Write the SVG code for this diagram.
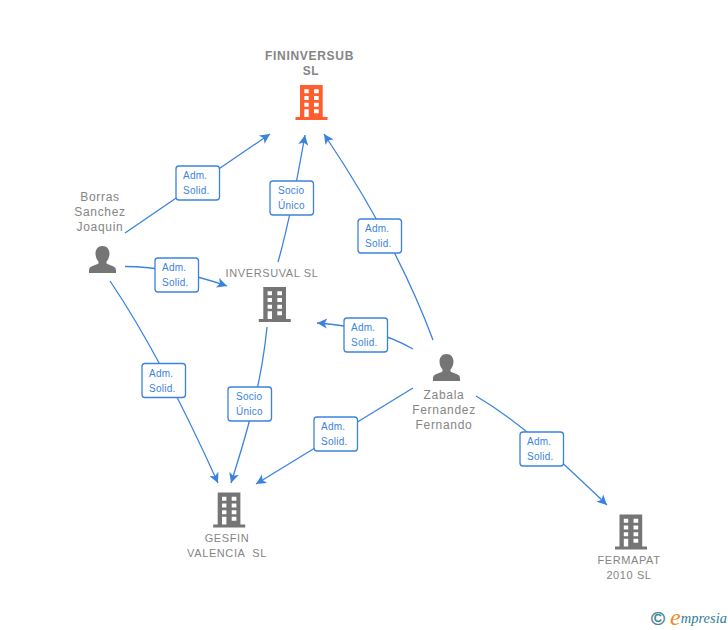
<svg xmlns="http://www.w3.org/2000/svg" width="728" height="630" viewBox="0 0 728 630">
<style>
.c{fill:none;stroke:#3b82e0;stroke-width:1.3;marker-end:url(#a)}
.b{fill:#fff;stroke:#3b82e0;stroke-width:1.3}
.t{font:10px "Liberation Sans",Arial,sans-serif;fill:#3b82e0;letter-spacing:.25px}
.n{font:12px "Liberation Sans",Arial,sans-serif;fill:#858585;text-anchor:middle;letter-spacing:.7px}
.u{font-size:11px;letter-spacing:.6px;white-space:pre}
.nb{font-weight:bold}
</style>
<defs>
<marker id="a" viewBox="0 0 12 12" refX="11" refY="6" markerWidth="12" markerHeight="12" markerUnits="userSpaceOnUse" orient="auto"><path d="M1 1 11 6 1 11 3.5 6z" fill="#3b82e0"/></marker>
<symbol id="bld" overflow="visible"><path fill-rule="evenodd" d="M0 0H22.7V32H27.500V35H-4.500V32H0ZM4.300 4.300V8.300H8.700V4.300ZM14 4.300V8.300H18.700V4.300ZM4.300 11V15H8.700V11ZM14 11V15H18.700V11ZM4.300 17.700V21.700H8.700V17.700ZM14 17.700V21.700H18.700V17.700ZM4.300 24.300V32H8.700V24.300ZM14 24.300V28.300H18.700V24.300Z"/></symbol>
<symbol id="per" overflow="visible"><path d="M13.500 0C18 0 20.500 3.500 20.500 7.500 20.500 11 19 14 17.500 15.500V17.500C21 19.500 27 20 27 24V27H0V24C0 20 6 19.500 9.500 17.500V15.500C8 14 6.500 11 6.500 7.500 6.500 3.500 9 0 13.500 0Z"/></symbol>
</defs>
<g id="connectors">
<path class="c" d="M125 233L270 134"/>
<path class="c" d="M125 266.500C160 266.500 195 275 227 286"/>
<path class="c" d="M110 281C150 340 185 410 218 483"/>
<path class="c" d="M278 262C290 220 298 175 305 135"/>
<path class="c" d="M267 327C262 380 248 430 231 483"/>
<path class="c" d="M433 340C405 265 365 195 324 134"/>
<path class="c" d="M413 349C385 333 350 325 317 323"/>
<path class="c" d="M413 388L256 484"/>
<path class="c" d="M476 396C525 425 565 465 607 505"/>
</g>
<g id="e1"><rect class="b" x="176" y="166" width="43.500" height="34" rx="3"/><text class="t" x="183" y="179">Adm.</text><text class="t" x="183" y="194">Solid.</text></g>
<g id="e2"><rect class="b" x="155" y="258" width="43.500" height="34" rx="3"/><text class="t" x="162" y="271">Adm.</text><text class="t" x="162" y="286">Solid.</text></g>
<g id="e3"><rect class="b" x="142" y="363.500" width="43.500" height="34" rx="3"/><text class="t" x="149" y="376.500">Adm.</text><text class="t" x="149" y="391.500">Solid.</text></g>
<g id="e4"><rect class="b" x="270" y="181" width="43.500" height="34" rx="3"/><text class="t" x="278" y="194">Socio</text><text class="t" x="278" y="209">Único</text></g>
<g id="e5"><rect class="b" x="228" y="387" width="43.500" height="34" rx="3"/><text class="t" x="236" y="400">Socio</text><text class="t" x="236" y="415">Único</text></g>
<g id="e6"><rect class="b" x="358" y="219" width="43.500" height="34" rx="3"/><text class="t" x="365" y="232">Adm.</text><text class="t" x="365" y="247">Solid.</text></g>
<g id="e7"><rect class="b" x="344" y="318" width="43.500" height="34" rx="3"/><text class="t" x="351" y="331">Adm.</text><text class="t" x="351" y="346">Solid.</text></g>
<g id="e8"><rect class="b" x="314" y="417" width="43.500" height="34" rx="3"/><text class="t" x="321" y="430">Adm.</text><text class="t" x="321" y="445">Solid.</text></g>
<g id="e9"><rect class="b" x="520" y="432" width="43.500" height="34" rx="3"/><text class="t" x="527" y="445">Adm.</text><text class="t" x="527" y="460">Solid.</text></g>
<g id="fininversub"><text class="n nb" x="309.500" y="60">FININVERSUB</text><text class="n nb" x="311" y="75">SL</text><use href="#bld" x="300" y="85" fill="#ff5e2e"/></g>
<g id="inversuval"><text class="n u" x="272" y="277">INVERSUVAL SL</text><use href="#bld" x="263.300" y="287" fill="#757575"/></g>
<g id="gesfin"><text class="n u" x="227" y="542">GESFIN</text><text class="n u" x="227" y="557">VALENCIA  SL</text><use href="#bld" x="217.700" y="492.500" fill="#757575"/></g>
<g id="fermapat"><text class="n u" x="629" y="564">FERMAPAT</text><text class="n u" x="629" y="579">2010 SL</text><use href="#bld" x="619.500" y="514.500" fill="#757575"/></g>
<g id="borras"><text class="n" x="100" y="201">Borras</text><text class="n" x="100" y="216">Sanchez</text><text class="n" x="100" y="231">Joaquin</text><use href="#per" x="89" y="246" fill="#757575"/></g>
<g id="zabala"><text class="n" x="444" y="399">Zabala</text><text class="n" x="444" y="414">Fernandez</text><text class="n" x="444" y="429">Fernando</text><use href="#per" x="433" y="354" fill="#757575"/></g>
<g id="logo"><text x="658" y="625" font-family="Liberation Sans,sans-serif" font-size="19" fill="#3f7f95" stroke="#3f7f95" stroke-width=".4" text-anchor="middle">©</text><text x="670" y="625" font-family="Liberation Serif,serif" font-style="italic" font-size="24" fill="#f08a1d">e</text><text x="680.800" y="623" font-family="Liberation Serif,serif" font-style="italic" font-size="14.500" fill="#2f7f95">mpresia</text></g>
</svg>
